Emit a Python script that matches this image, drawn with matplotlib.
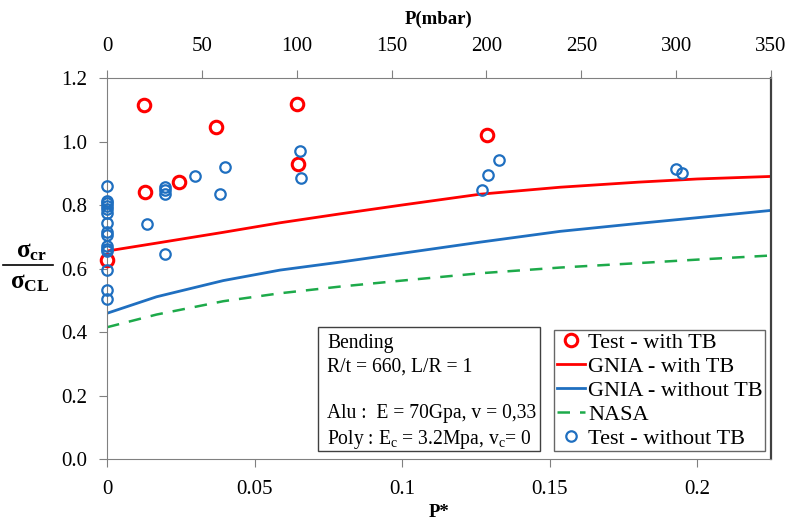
import matplotlib
matplotlib.use('Agg')
import matplotlib.pyplot as plt
from matplotlib.patches import Rectangle
from matplotlib.lines import Line2D

plt.rcParams['font.family'] = ['Liberation Serif', 'DejaVu Serif']
plt.rcParams['mathtext.fontset'] = 'custom'
plt.rcParams['mathtext.rm'] = 'Liberation Serif'
plt.rcParams['mathtext.it'] = 'Liberation Serif:italic'
plt.rcParams['mathtext.bf'] = 'Liberation Serif:bold'

# test points with TB (red)
test_tb_x = [0.0, 0.0127, 0.0130, 0.0245, 0.0369, 0.0645, 0.0646, 0.1286]
test_tb_y = [0.628, 1.116, 0.841, 0.871, 1.047, 1.118, 0.929, 1.019]

# test points without TB (blue)
test_x = [0.0] * 15 + [0.0136, 0.0198, 0.0198, 0.0198, 0.0198, 0.0299, 0.0384, 0.0401,
                       0.0653, 0.0656, 0.1271, 0.1290, 0.1329, 0.1928, 0.1949]
test_y = [0.860, 0.814, 0.805, 0.797, 0.786, 0.776, 0.744, 0.715, 0.707, 0.671,
          0.662, 0.654, 0.595, 0.532, 0.503,
          0.741, 0.856, 0.847, 0.835, 0.647, 0.891, 0.834, 0.919,
          0.969, 0.885, 0.847, 0.894, 0.943, 0.914, 0.901]

# model curves
p_star = [0.0, 0.0168, 0.0394, 0.0586, 0.0789, 0.1, 0.1264, 0.1535, 0.1800, 0.2, 0.225]
gnia_tb = [0.655, 0.680, 0.714, 0.744, 0.772, 0.800, 0.834, 0.856, 0.872, 0.882, 0.890]
gnia = [0.459, 0.511, 0.562, 0.595, 0.620, 0.648, 0.683, 0.717, 0.742, 0.760, 0.783]
nasa = [0.415, 0.455, 0.497, 0.522, 0.543, 0.562, 0.585, 0.603, 0.617, 0.628, 0.641]

red = '#FF0000'
blue = '#1F6FC0'
green = '#1DAA4A'

fig = plt.figure(figsize=(7.91, 5.25), dpi=100)
ax = fig.add_axes([0.1353, 0.1257, 0.8394, 0.7257])

ax.plot(test_tb_x, test_tb_y, 'o', mfc='none', mec=red, ms=9, mew=2.2,
        label='Test - with TB', clip_on=False, zorder=5)
ax.plot(p_star, gnia_tb, color=red, lw=2, label='GNIA - with TB')
ax.plot(p_star, gnia, color=blue, lw=2, label='GNIA - without TB')
ax.plot(p_star, nasa, color=green, lw=1.8, ls=(0, (5, 4)), label='NASA')
ax.plot(test_x, test_y, 'o', mfc='none', mec=blue, ms=7.5, mew=1.6,
        label='Test - without TB', clip_on=False, zorder=6)

ax.set_xlim(0, 0.225)
ax.set_ylim(0, 1.2)
ax.set_yticks([0.0, 0.2, 0.4, 0.6, 0.8, 1.0, 1.2])
ax.set_yticklabels(['0.0', '0.2', '0.4', '0.6', '0.8', '1.0', '1.2'])
ax.set_xticks([0, 0.05, 0.1, 0.15, 0.2])
ax.set_xticklabels(['0', '0.05', '0.1', '0.15', '0.2'])
ax.tick_params(labelsize=15, color='#808080', length=6, direction='out')
ax.tick_params(axis='y', pad=8)
ax.tick_params(axis='x', pad=9)
for s in ['left', 'bottom', 'top']:
    ax.spines[s].set_color('#808080')
ax.spines['right'].set_color('#404040')
ax.spines['right'].set_linewidth(1.6)

ax.set_xlabel('P*', fontsize=13.5, fontweight='bold', labelpad=4)

# y label drawn as a stacked fraction
fig.text(31 / 791, 1 - 252 / 525, r'$\mathbf{σ_{cr}}$', fontsize=18, ha='center', va='center')
fig.text(30 / 791, 1 - 283 / 525, r'$\mathbf{σ_{CL}}$', fontsize=18, ha='center', va='center')
fig.add_artist(Line2D([3 / 791, 53 / 791], [1 - 265 / 525, 1 - 265 / 525],
                      color='black', lw=1.2, transform=fig.transFigure))

top = ax.twiny()
top.set_xlim(0, 350)
top.set_xticks(range(0, 351, 50))
top.tick_params(labelsize=15, color='#808080', length=6, direction='out', pad=10)
for s in top.spines.values():
    s.set_visible(False)
top.set_xlabel('P(mbar)', fontsize=13.5, fontweight='bold', labelpad=9)

# annotation box
ax.add_patch(Rectangle((0.3178, 0.021), 0.3342, 0.3255, transform=ax.transAxes,
                       fc='white', ec='#404040', lw=1, zorder=7))
ax.text(0.3313, 0.327,
        'Bending\nR/t = 660, L/R = 1\n\nAlu :  E = 70Gpa, v = 0,33\nPoly : E$_\\mathrm{c}$ = 3.2Mpa, v$_\\mathrm{c}$= 0',
        transform=ax.transAxes, fontsize=14.1, va='top', ha='left', linespacing=1.3,
        zorder=8)

leg = ax.legend(loc='lower right', bbox_to_anchor=(0.991, 0.021), fontsize=16,
                frameon=True, fancybox=False, edgecolor='#404040', handlelength=1.3,
                handletextpad=0.12, borderpad=0.1, labelspacing=0.15, borderaxespad=0)
leg.get_frame().set_linewidth(1)
leg.set_zorder(9)

fig.savefig('out.png', dpi=100)
